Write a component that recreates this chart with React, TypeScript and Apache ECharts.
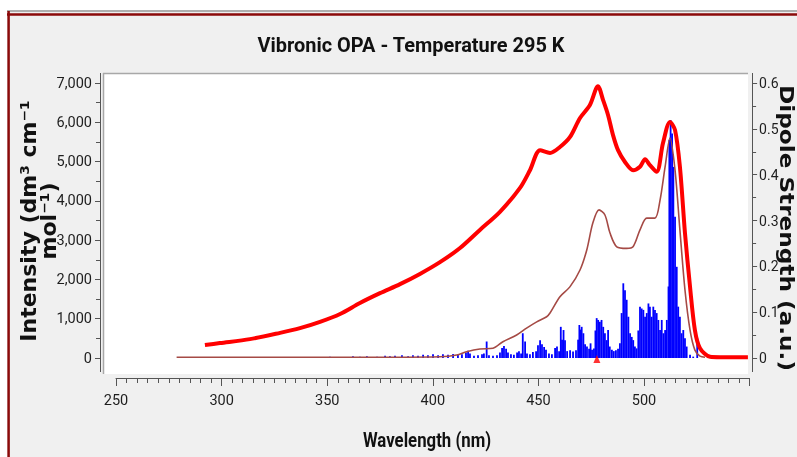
import React, { useEffect, useRef } from "react";
import * as echarts from "echarts";

// Red thick curve: convoluted OPA intensity (left axis)
const redWavelength = [292.1, 299.2, 313.4, 327.7, 337.1, 346.6, 356.1, 365.5, 375.0, 384.5, 393.9, 403.4, 412.9, 422.3, 431.8, 441.3, 446.0, 450.8, 455.5, 460.2, 464.9, 469.7, 474.4, 478.2, 480.6, 483.0, 485.3, 487.7, 491.0, 494.8, 498.1, 500.5, 502.8, 506.0, 509.0, 512.3, 514.7, 517.0, 519.4, 521.8, 524.1, 526.5, 531.3, 536.0, 549.2];
const redIntensity = [330, 380, 480, 640, 760, 920, 1120, 1400, 1650, 1880, 2140, 2440, 2800, 3260, 3720, 4330, 4780, 5290, 5220, 5370, 5620, 6110, 6440, 6920, 6570, 6180, 5680, 5290, 4990, 4780, 4870, 5060, 4910, 4740, 5470, 6010, 5800, 4870, 3180, 1810, 710, 250, 30, 20, 20];

// Brown thin curve (left axis units)
const brownWavelength = [278.7, 384.5, 403.4, 411.3, 416.0, 422.3, 428.5, 433.2, 439.7, 444.4, 449.2, 453.9, 455.5, 460.2, 464.9, 469.7, 472.9, 475.8, 478.7, 481.5, 483.9, 487.1, 491.8, 494.8, 498.1, 501.3, 505.2, 507.6, 510.0, 512.3, 514.7, 517.0, 519.4, 521.8, 524.1, 526.5, 528.9];
const brownIntensity = [20, 20, 30, 75, 160, 230, 250, 415, 585, 760, 920, 1050, 1145, 1560, 1810, 2240, 2750, 3440, 3770, 3640, 3180, 2830, 2790, 2830, 3260, 3560, 3560, 4020, 4870, 5600, 4780, 3260, 1730, 710, 200, 50, 20];

// Blue stick spectrum: dipole strength (right axis)
const stickWavelength = [351.3, 358.4, 362.2, 365.5, 368.8, 373.6, 377.4, 379.7, 382.1, 385.4, 388.3, 390.6, 393.0, 395.4, 397.7, 400.1, 402.5, 404.8, 407.2, 409.6, 411.9, 413.8, 415.7, 416.7, 417.6, 419.5, 421.4, 423.3, 424.2, 425.5, 426.6, 428.5, 430.4, 431.8, 432.8, 433.7, 434.7, 435.6, 437.0, 438.4, 439.9, 440.8, 441.8, 442.6, 443.7, 444.6, 446.0, 447.4, 448.9, 449.8, 450.8, 451.7, 452.7, 453.6, 455.0, 456.4, 457.9, 458.8, 459.8, 460.6, 461.2, 461.9, 462.6, 463.6, 465.0, 466.4, 467.8, 468.8, 469.4, 470.0, 470.5, 471.3, 472.1, 473.0, 474.0, 474.7, 475.4, 476.3, 477.0, 477.6, 478.3, 479.1, 479.9, 480.7, 481.5, 482.3, 483.0, 483.8, 484.8, 485.7, 486.7, 487.7, 488.6, 489.4, 490.2, 491.0, 491.8, 492.6, 493.4, 494.2, 494.9, 495.7, 496.5, 497.3, 498.1, 498.9, 499.7, 500.5, 501.3, 502.1, 502.8, 503.6, 504.4, 505.2, 506.0, 506.8, 507.6, 508.4, 509.2, 510.0, 510.8, 511.6, 512.0, 512.6, 513.3, 513.9, 514.7, 515.5, 516.2, 517.0, 517.8, 518.6, 519.4, 520.2, 521.8, 523.3, 525.2];
const stickStrength = [0.003, 0.002, 0.004, 0.003, 0.004, 0.003, 0.005, 0.004, 0.005, 0.006, 0.004, 0.006, 0.005, 0.007, 0.006, 0.008, 0.006, 0.008, 0.007, 0.009, 0.007, 0.008, 0.012, 0.016, 0.010, 0.005, 0.006, 0.008, 0.010, 0.036, 0.006, 0.005, 0.006, 0.012, 0.022, 0.026, 0.020, 0.012, 0.008, 0.007, 0.012, 0.015, 0.010, 0.054, 0.036, 0.010, 0.008, 0.013, 0.015, 0.028, 0.039, 0.030, 0.024, 0.018, 0.010, 0.008, 0.022, 0.025, 0.015, 0.068, 0.040, 0.061, 0.039, 0.015, 0.017, 0.014, 0.017, 0.040, 0.072, 0.062, 0.068, 0.054, 0.030, 0.025, 0.020, 0.032, 0.018, 0.021, 0.060, 0.087, 0.083, 0.079, 0.083, 0.068, 0.054, 0.039, 0.061, 0.025, 0.018, 0.015, 0.017, 0.020, 0.032, 0.098, 0.163, 0.148, 0.127, 0.090, 0.054, 0.046, 0.039, 0.025, 0.021, 0.060, 0.112, 0.108, 0.105, 0.090, 0.098, 0.119, 0.112, 0.090, 0.112, 0.105, 0.098, 0.083, 0.061, 0.083, 0.054, 0.061, 0.083, 0.156, 0.476, 0.519, 0.490, 0.417, 0.308, 0.199, 0.112, 0.090, 0.054, 0.061, 0.043, 0.025, 0.007, 0.003, 0.044];

// Red triangle marker on the baseline
const markerWavelength = [477.7];
const markerValue = [0];

const xTicks = { min: 250, max: 550, step: 50 };
const leftTicks = { min: 0, max: 7000, step: 1000 };
const rightTicks = { min: 0, max: 0.6, step: 0.1 };

const LABEL_FONT = "Roboto, sans-serif";
const WIDE = "'DejaVu Sans', Verdana, sans-serif";
const AXIS_COLOR = "#555555";
const LABEL_COLOR = "#1e1e1e";

export default function App() {
  const ref = useRef<HTMLDivElement>(null);

  useEffect(() => {
    if (!ref.current) return;
    const chart = echarts.init(ref.current, undefined, { renderer: "svg" });

    const redData = redWavelength.map((w, i) => [w, redIntensity[i]]);
    const brownData = brownWavelength.map((w, i) => [w, brownIntensity[i]]);
    const stickData = stickWavelength.map((w, i) => [w, stickStrength[i]]);
    const markerData = markerWavelength.map((w, i) => [w, markerValue[i]]);

    const centered = { textAlign: "center", textVerticalAlign: "middle", align: "center", verticalAlign: "middle" };

    const option: any = {
      animation: false,
      backgroundColor: "transparent",
      grid: {
        left: 116,
        right: 47.4,
        top: 83,
        bottom: 99,
        containLabel: false,
        outerBoundsMode: "none",
      },
      xAxis: {
        type: "value",
        min: xTicks.min,
        max: xTicks.max,
        interval: xTicks.step,
        offset: 20,
        axisLine: { show: true, onZero: false, lineStyle: { color: AXIS_COLOR, width: 1 } },
        axisTick: { show: true, length: 8, lineStyle: { color: AXIS_COLOR } },
        minorTick: { show: true, splitNumber: 10, length: 5, lineStyle: { color: AXIS_COLOR } },
        axisLabel: {
          margin: 15,
          fontSize: 14.5,
          fontFamily: LABEL_FONT,
          color: LABEL_COLOR,
          formatter: (v: number) => (v === xTicks.max ? "" : String(v)),
        },
        splitLine: { show: false },
      },
      yAxis: [
        {
          type: "value",
          position: "left",
          min: leftTicks.min,
          max: leftTicks.max,
          interval: leftTicks.step,
          offset: 16,
          axisLine: { show: true, onZero: false, lineStyle: { color: AXIS_COLOR, width: 1 } },
          axisTick: { show: true, length: 5, lineStyle: { color: AXIS_COLOR } },
          minorTick: { show: true, splitNumber: 2, length: 4, lineStyle: { color: AXIS_COLOR } },
          axisLabel: {
            margin: 8,
            fontSize: 14.5,
            fontFamily: LABEL_FONT,
            color: LABEL_COLOR,
            formatter: (v: number) => v.toLocaleString("en-US"),
          },
          splitLine: { show: false },
        },
        {
          type: "value",
          position: "right",
          min: rightTicks.min,
          max: rightTicks.max,
          interval: rightTicks.step,
          offset: 2.5,
          axisLine: { show: true, onZero: false, lineStyle: { color: AXIS_COLOR, width: 1 } },
          axisTick: { show: true, length: 5, lineStyle: { color: AXIS_COLOR } },
          minorTick: { show: true, splitNumber: 2, length: 4, lineStyle: { color: AXIS_COLOR } },
          axisLabel: {
            margin: 7,
            fontSize: 14,
            fontFamily: LABEL_FONT,
            color: LABEL_COLOR,
            formatter: (v: number) => (Math.abs(v) < 1e-9 ? "0" : v.toFixed(1)),
          },
          splitLine: { show: false },
        },
      ],
      graphic: [
        // panel background and frame
        { type: "rect", z: -100, shape: { x: 7, y: 10, width: 800, height: 460 }, style: { fill: "#f0f0f0" } },
        { type: "line", z: -90, shape: { x1: 7, y1: 11, x2: 797, y2: 11 }, style: { stroke: "#9a9a9a", lineWidth: 1.5 } },
        { type: "line", z: -90, shape: { x1: 7, y1: 14.5, x2: 797, y2: 14.5 }, style: { stroke: "#8b0a0a", lineWidth: 2.5 } },
        { type: "line", z: -90, shape: { x1: 8.6, y1: 11, x2: 8.6, y2: 457 }, style: { stroke: "#8b0a0a", lineWidth: 2.5 } },
        // plot area
        { type: "rect", z: -80, shape: { x: 103, y: 73, width: 645, height: 301 }, style: { fill: "#ffffff" } },
        { type: "line", z: -79, shape: { x1: 103, y1: 73.5, x2: 748, y2: 73.5 }, style: { stroke: "#a8a8a8", lineWidth: 1.5 } },
        { type: "line", z: -79, shape: { x1: 103.5, y1: 73, x2: 103.5, y2: 374 }, style: { stroke: "#a8a8a8", lineWidth: 1.5 } },
        // axis line extensions
        { type: "line", z: 5, shape: { x1: 100.5, y1: 73, x2: 100.5, y2: 83 }, style: { stroke: AXIS_COLOR, lineWidth: 1 } },
        { type: "line", z: 5, shape: { x1: 100.5, y1: 358, x2: 100.5, y2: 372 }, style: { stroke: AXIS_COLOR, lineWidth: 1 } },
        { type: "line", z: 5, shape: { x1: 752.5, y1: 73, x2: 752.5, y2: 83 }, style: { stroke: AXIS_COLOR, lineWidth: 1 } },
        { type: "line", z: 5, shape: { x1: 752.5, y1: 358, x2: 752.5, y2: 372 }, style: { stroke: AXIS_COLOR, lineWidth: 1 } },
        // title
        {
          type: "text", z: 10, x: 411, y: 45, scaleX: 0.95,
          style: {
            text: "Vibronic OPA - Temperature 295 K",
            fontFamily: "Roboto", fontWeight: "bold", fontSize: 21, fill: "#111111",
            ...centered,
          },
        },
        // x axis name
        {
          type: "text", z: 10, x: 427, y: 441, scaleX: 0.84,
          style: {
            text: "Wavelength (nm)",
            fontFamily: "Roboto", fontWeight: "bold", fontSize: 20, fill: "#111111",
            ...centered,
          },
        },
        // left axis name
        {
          type: "text", z: 10, x: 38, y: 221, rotation: Math.PI / 2,
          style: {
            text: "Intensity (dm³ cm⁻¹\nmol⁻¹)",
            fontFamily: WIDE, fontWeight: "bold", fontSize: 22, lineHeight: 20, fill: "#111111",
            ...centered,
          },
        },
        // right axis name
        {
          type: "text", z: 10, x: 787, y: 228, rotation: -Math.PI / 2, scaleX: 1.22,
          style: {
            text: "Dipole Strength (a.u.)",
            fontFamily: WIDE, fontWeight: "bold", fontSize: 19, fill: "#111111",
            ...centered,
          },
        },
      ],
      series: [
        {
          type: "bar",
          name: "Dipole strength",
          yAxisIndex: 1,
          data: stickData,
          barWidth: 1.8,
          itemStyle: { color: "#0000ff" },
          z: 2,
        },
        {
          type: "line",
          name: "Broadened",
          yAxisIndex: 0,
          data: brownData,
          smooth: 0.3,
          showSymbol: false,
          lineStyle: { color: "#a54a45", width: 1.6 },
          z: 3,
        },
        {
          type: "line",
          name: "Intensity",
          yAxisIndex: 0,
          data: redData,
          smooth: 0.3,
          showSymbol: false,
          lineStyle: { color: "#ff0000", width: 4 },
          z: 4,
        },
        {
          type: "scatter",
          yAxisIndex: 1,
          data: markerData,
          symbol: "triangle",
          symbolSize: [7, 8],
          symbolOffset: [0, 1],
          clip: false,
          itemStyle: { color: "#ff0000" },
          z: 5,
        },
      ],
    };

    chart.setOption(option);
    return () => chart.dispose();
  }, []);

  return (
    <div
      ref={ref}
      style={{ position: "fixed", left: 0, top: 0, width: 797, height: 457 }}
    />
  );
}
